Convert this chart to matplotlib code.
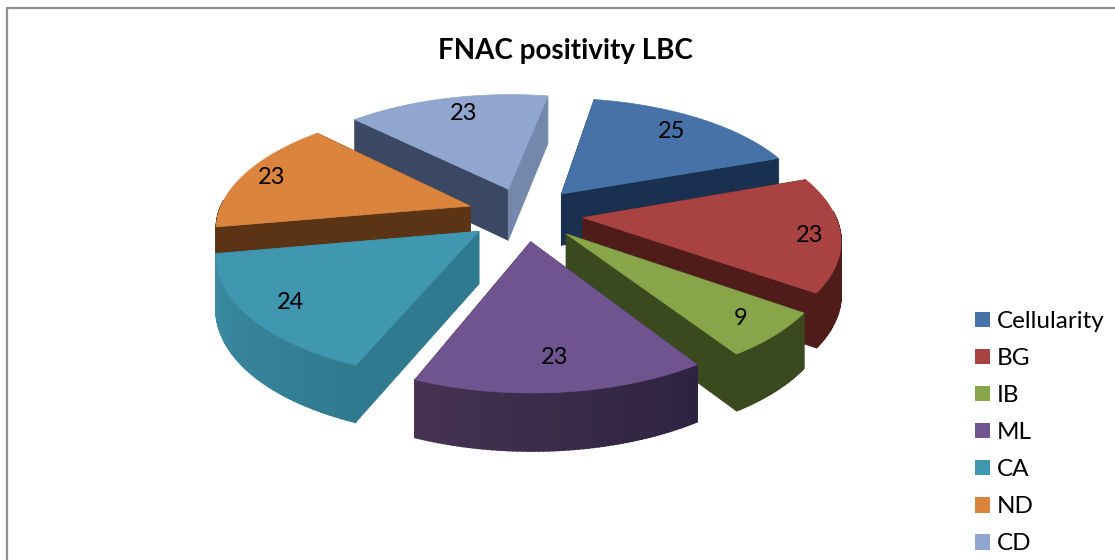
"""Exploded 3D pie: FNAC positivity LBC."""

import numpy as np
import matplotlib
matplotlib.use("Agg")
import matplotlib.pyplot as plt
from matplotlib.patches import Patch, Polygon

plt.rcParams['font.family'] = ['Lato', 'DejaVu Sans']

# data
categories = ['Cellularity', 'BG', 'IB', 'ML', 'CA', 'ND', 'CD']
values = [25, 23, 9, 23, 24, 23, 23]

# colours: top face, first radial wall, second radial wall, outer wall (start, end)
top_colors = ['#4672A8', '#A84341', '#88A54A', '#6F5490', '#4097B0', '#DB843D', '#90A6CE']
start_walls = ['#1A3050', '#4F1C1A', '#3B4A1E', '#32264A', '#2F7A8E', '#5B3416', '#3B4863']
end_walls = ['#1A3050', '#4F1C1A', '#3B4A1E', '#32264A', '#2F7A8E', '#5B3416', '#7488AC']
outer_a = ['#1A3050', '#4F1C1A', '#3B4A1E', '#2D2340', '#2F7A8E', '#5B3416', '#7488AC']
outer_b = ['#1A3050', '#4F1C1A', '#3B4A1E', '#463252', '#3D8CA3', '#5B3416', '#7488AC']

# where the value sits in its slice (radius fraction, turn from mid angle in deg)
label_radius = [0.80, 0.88, 0.85, 0.80, 0.84, 0.88, 0.80]
label_turn = [-1, 2, 0, 0, 0, 0, 2]

# view
FIRST_ANGLE = 10.2
CX, CY = 525, 214
SCALE_X, SCALE_Y = 252, 117
PERSPECTIVE = 0.16
EXPLODE = 0.23
DEPTH = 52


def project(u, v, z=0.0):
    w = 1 + PERSPECTIVE * v
    return CX + SCALE_X * u / w, CY - SCALE_Y * v / w + z * DEPTH / np.sqrt(w)


def slice_points(a0, a1, mid, radius=1.0, n=60):
    th = np.radians(np.linspace(a0, a1, n))
    m = np.radians(mid)
    return radius * np.sin(th) + EXPLODE * np.sin(m), radius * np.cos(th) + EXPLODE * np.cos(m)


def wall(ax, p, q, color, lw=0.6):
    # quad standing under the edge p-q of the top face
    x0, y0 = project(*p)
    x1, y1 = project(*q)
    x2, y2 = project(*q, 1)
    x3, y3 = project(*p, 1)
    ax.add_patch(Polygon([(x0, y0), (x1, y1), (x2, y2), (x3, y3)], closed=True,
                         facecolor=color, edgecolor=color, lw=lw))


def draw_slice(ax, i, a0, a1):
    mid = (a0 + a1) / 2
    us, vs = slice_points(a0, a1, mid)
    tip = (EXPLODE * np.sin(np.radians(mid)), EXPLODE * np.cos(np.radians(mid)))

    wall(ax, tip, (us[0], vs[0]), start_walls[i])
    wall(ax, tip, (us[-1], vs[-1]), end_walls[i])

    col_a = np.array(matplotlib.colors.to_rgb(outer_a[i]))
    col_b = np.array(matplotlib.colors.to_rgb(outer_b[i]))
    for k in range(len(us) - 1):
        t = k / (len(us) - 2)
        # outer wall is only seen where it faces the viewer
        if np.cos(np.radians(a0 + (a1 - a0) * t)) < 0.05:
            wall(ax, (us[k], vs[k]), (us[k + 1], vs[k + 1]), col_a * (1 - t) + col_b * t, lw=1.2)

    xs, ys = project(np.r_[tip[0], us], np.r_[tip[1], vs])
    ax.add_patch(Polygon(np.c_[xs, ys], closed=True, facecolor=top_colors[i],
                         edgecolor=top_colors[i], lw=0.5))


def main():
    fig = plt.figure(figsize=(11.15, 5.6), dpi=100)
    ax = fig.add_axes([0, 0, 1, 1])
    ax.set_xlim(0, 1115)
    ax.set_ylim(560, 0)
    ax.axis('off')

    # chart frame
    ax.plot([7, 7, 1115], [560, 8, 8], color='#8E8E8E', lw=1.6)

    spans = 360 * np.array(values) / sum(values)
    starts = FIRST_ANGLE + np.r_[0, np.cumsum(spans)[:-1]]
    mids = starts + spans / 2

    # back slices first
    for i in np.argsort(-np.cos(np.radians(mids))):
        draw_slice(ax, i, starts[i], starts[i] + spans[i])

    for i, val in enumerate(values):
        ang = np.radians(mids[i] + label_turn[i])
        m = np.radians(mids[i])
        u = label_radius[i] * np.sin(ang) + EXPLODE * np.sin(m)
        v = label_radius[i] * np.cos(ang) + EXPLODE * np.cos(m)
        x, y = project(u, v)
        ax.text(x, y, str(val), ha='center', va='center', fontsize=17, color='black')

    ax.text(565, 51, 'FNAC positivity LBC', ha='center', va='center',
            fontsize=20, fontweight='bold', color='black')

    handles = [Patch(facecolor=c, edgecolor='none') for c in top_colors]
    ax.legend(handles, categories, loc='upper left', bbox_to_anchor=(975, 311),
              bbox_transform=ax.transData, frameon=False, fontsize=17.5,
              handlelength=0.62, handleheight=0.62, handletextpad=0.29,
              labelspacing=0.66, borderpad=0, borderaxespad=0)

    fig.savefig('out.png', dpi=100)
    plt.close(fig)


if __name__ == '__main__':
    main()
